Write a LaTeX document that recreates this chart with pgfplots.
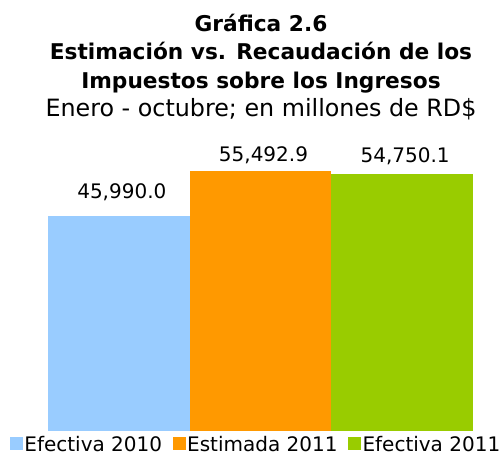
\documentclass[border=0pt]{standalone}
\usepackage{fontspec}
\setmainfont{DejaVu Sans}
\usepackage{pgfplots}
\pgfplotsset{compat=1.18}
\definecolor{cblue}{HTML}{99CCFF}
\definecolor{corange}{HTML}{FF9900}
\definecolor{cgreen}{HTML}{99CC00}
\begin{document}
\begin{tikzpicture}
\begin{axis}[name=ax, scale only axis, width=425pt, height=260pt,
  xmin=-0.5, xmax=2.5, ymin=0, ymax=55492.9, hide axis, clip=false,
  ybar, bar width=1, bar shift=0pt,
  nodes near coords={\pgfmathprintnumber[fixed,fixed zerofill,precision=1,1000 sep={,},assume math mode=true]{\pgfplotspointmeta}},
  nodes near coords style={font=\fontsize{20}{24}\selectfont, anchor=base, inner sep=0pt, xshift=3pt, text=black},
  legend columns=3,
  legend style={at={(0.489,0)}, anchor=north, yshift=-5.5pt, draw=none, fill=none, inner sep=0pt,
    font=\fontsize{20}{24}\selectfont,
    /tikz/every even column/.append style={column sep=9pt},
    nodes={inner xsep=1.5pt, inner ysep=0pt, text depth=0pt}},
  legend image code/.code={\fill[#1] (0pt,-5.5pt) rectangle (13pt,7.5pt);},
]
\addplot[fill=cblue, draw=none, every node near coord/.append style={yshift=17pt}] coordinates {(0,45990.0)};
\addplot[fill=corange, draw=none, every node near coord/.append style={yshift=9pt}] coordinates {(1,55492.9)};
\addplot[fill=cgreen, draw=none, every node near coord/.append style={yshift=12pt}] coordinates {(2,54750.1)};
\legend{Efectiva 2010, Estimada 2011, Efectiva 2011}
\end{axis}
\node[anchor=base, font=\bfseries\fontsize{21.7}{25}\selectfont] at ([shift={(213pt,399.5pt)}]ax.south west) {Gráfica 2.6};
\node[anchor=base, font=\bfseries\fontsize{21.7}{25}\selectfont] at ([shift={(213pt,371pt)}]ax.south west) {Estimación vs. Recaudación de los};
\node[anchor=base, font=\bfseries\fontsize{21.7}{25}\selectfont] at ([shift={(213pt,342.5pt)}]ax.south west) {Impuestos sobre los Ingresos};
\node[anchor=base, font=\fontsize{23.8}{28}\selectfont] at ([shift={(213pt,314pt)}]ax.south west) {Enero - octubre; en millones de RD\$};
\pgfresetboundingbox
\path[use as bounding box] ([shift={(-48pt,-26pt)}]ax.south west) rectangle ([shift={(454pt,431pt)}]ax.south west);
\end{tikzpicture}
\end{document}
